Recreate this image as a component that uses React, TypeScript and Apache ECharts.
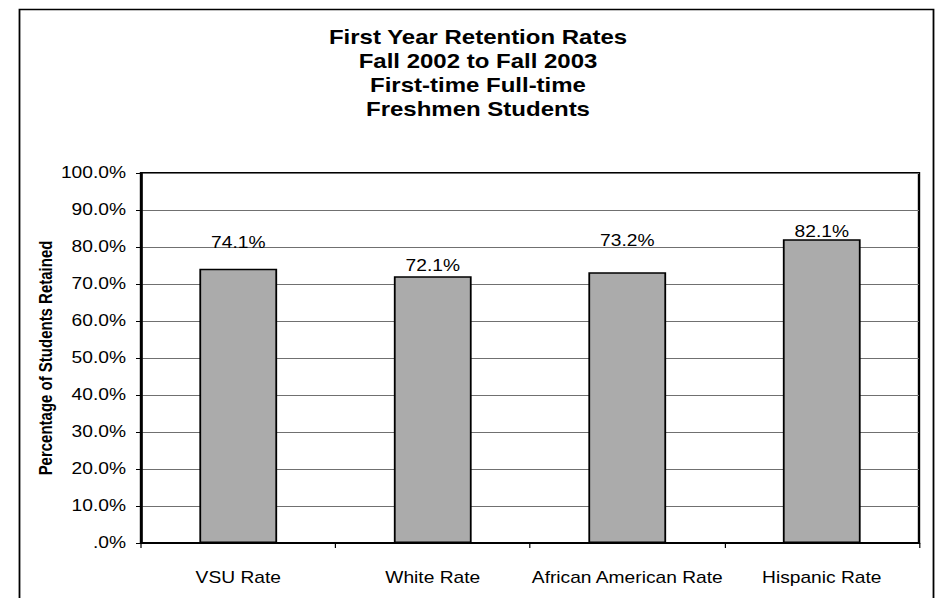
import React, { useEffect, useRef } from "react";
import * as echarts from "echarts";

const categories = ["VSU Rate", "White Rate", "African American Rate", "Hispanic Rate"];
const retention = [74.1, 72.1, 73.2, 82.1];
const titleLines = ["First Year Retention Rates", "Fall 2002 to Fall 2003", "First-time Full-time", "Freshmen Students"];
const yAxisName = "Percentage of Students Retained";
// label vertical nudges (px) mimicking the moved labels in the original
const labelNudge = [-13, 2, -19, 5];

const FONT = "Liberation Sans, Arial, sans-serif";
// the original picture is stretched horizontally
const SX = 1.2;
const W = 936 / SX;

export default function App() {
  const ref = useRef<HTMLDivElement>(null);
  useEffect(() => {
    document.body.style.margin = "0";
    const chart = echarts.init(ref.current!, null, { renderer: "svg" });
    chart.setOption({
      animation: false,
      backgroundColor: "#fff",
      textStyle: { fontFamily: FONT },
      grid: {
        left: 141 / SX,
        right: W - 919 / SX,
        top: 173,
        bottom: 55,
        show: true,
        borderColor: "#000",
        borderWidth: 2,
        backgroundColor: "transparent",
      },
      graphic: [
        {
          type: "rect",
          shape: { x: 19.5 / SX, y: 9.5, width: 914 / SX, height: 620 },
          style: { fill: "none", stroke: "#000", lineWidth: 1.5 },
          silent: true,
        },
        {
          type: "text",
          x: 478 / SX,
          y: 25,
          style: {
            text: titleLines.join("\n"),
            font: `bold 20px ${FONT}`,
            lineHeight: 24,
            align: "center",
            verticalAlign: "top",
            fill: "#000",
          },
        },
      ],
      xAxis: {
        type: "category",
        data: categories,
        boundaryGap: true,
        axisLine: { show: true, lineStyle: { color: "#000", width: 2 } },
        axisTick: { show: true, length: 5, lineStyle: { color: "#000", width: 1 } },
        axisLabel: { color: "#000", fontSize: 16, margin: 27, fontFamily: FONT, interval: 0 },
        splitLine: { show: false },
      },
      yAxis: {
        type: "value",
        min: 0,
        max: 100,
        interval: 10,
        name: yAxisName,
        nameLocation: "middle",
        nameGap: 86 / SX,
        nameRotate: 90,
        nameMoveOverlap: false,
        nameTextStyle: { color: "#000", fontSize: 15, fontWeight: "bold", fontFamily: FONT },
        axisLine: { show: true, lineStyle: { color: "#000", width: 2 } },
        axisTick: { show: true, length: 5 / SX, lineStyle: { color: "#000", width: 1 } },
        axisLabel: {
          color: "#000",
          fontSize: 16,
          margin: 15 / SX,
          fontFamily: FONT,
          formatter: (v: number) => (v === 0 ? ".0%" : v.toFixed(1) + "%"),
        },
        splitLine: { show: true, lineStyle: { color: "#707070", width: 1 } },
      },
      series: [
        {
          type: "bar",
          barWidth: "40%",
          data: retention.map((v, i) => ({
            value: v,
            label: { offset: [0, labelNudge[i]] },
          })),
          itemStyle: { color: "#ABABAB", borderColor: "#000", borderWidth: 1.5 },
          label: {
            show: true,
            position: "top",
            distance: 5,
            color: "#000",
            fontSize: 16,
            fontFamily: FONT,
            formatter: (p: any) => p.value.toFixed(1) + "%",
          },
        },
      ],
    });
    return () => chart.dispose();
  }, []);
  return (
    <div style={{ width: 936, height: 598, overflow: "hidden" }}>
      <div
        ref={ref}
        style={{ width: W, height: 598, transform: `scaleX(${SX})`, transformOrigin: "0 0" }}
      />
    </div>
  );
}
